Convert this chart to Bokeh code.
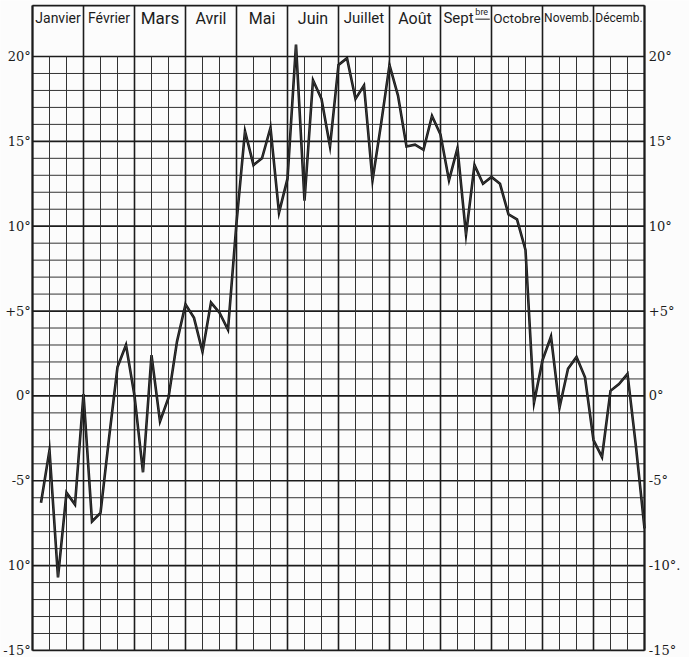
from bokeh.plotting import figure
from bokeh.models import Range1d, ColumnDataSource
from bokeh.core.properties import value
from bokeh.embed import file_html
from bokeh.resources import INLINE

# Month headings (one column of three decades per month)
months = ["Janvier", "Février", "Mars", "Avril", "Mai", "Juin",
          "Juillet", "Août", "Sept", "Octobre", "Novemb.", "Décemb."]

# Mean temperature of each five-day period of the year, six per month (°C)
temperatures = [
    -6.3, -3.2, -10.7, -5.7, -6.4, 0.1,      # Janvier
    -7.4, -6.9, -2.5, 1.7, 3.0, 0.0,         # Février
    -4.5, 2.4, -1.5, -0.1, 3.2, 5.4,         # Mars
    4.6, 2.6, 5.5, 4.9, 3.9, 10.2,           # Avril
    15.6, 13.6, 14.0, 15.8, 10.8, 12.8,      # Mai
    20.7, 11.5, 18.6, 17.5, 14.7, 19.5,      # Juin
    19.9, 17.5, 18.3, 12.7, 16.0, 19.5,      # Juillet
    17.7, 14.7, 14.8, 14.5, 16.5, 15.4,      # Août
    12.7, 14.6, 9.5, 13.6, 12.5, 12.9,       # Septembre
    12.5, 10.7, 10.4, 8.6, -0.4, 2.1,        # Octobre
    3.5, -0.7, 1.6, 2.3, 1.1, -2.6,          # Novembre
    -3.6, 0.3, 0.7, 1.3, -3.0, -7.8,         # Décembre
]

# Temperature scale
scale_ticks = [20, 15, 10, 5, 0, -5, -10, -15]
left_labels = ["20°", "15°", "10°", "+5°", "0°", "-5°", "10°", "-15°"]
right_labels = ["20°", "15°", "10°", "+5°", "0°", "-5°", "-10°.", "-15°"]

T_MIN, T_MAX = -15, 20
N_DEC = 3 * len(months)          # decades across the year
HEADER_TOP = 23.0                # top edge of the month header band

# x is measured in decades (0..36), y in degrees
x_vals = [(i + 1) / 2 for i in range(len(temperatures))]

p = figure(width=689, height=657, output_backend="svg", toolbar_location=None,
           x_axis_type=None, y_axis_type=None, min_border=0,
           x_range=Range1d(-32 / 17, 657 / 17), y_range=Range1d(-15.415, 23.30))
p.outline_line_color = None
p.background_fill_color = "#fcfcfc"
p.border_fill_color = "#fcfcfc"
p.xgrid.visible = False
p.ygrid.visible = False

INK = "#1c1c1c"

# horizontal rules: every degree, heavier every five degrees
minor_h = [t for t in range(T_MIN, T_MAX + 1) if t % 5 != 0]
major_h = [t for t in range(T_MIN, T_MAX + 1) if t % 5 == 0]
p.segment(x0=[0] * len(minor_h), x1=[N_DEC] * len(minor_h), y0=minor_h, y1=minor_h,
          line_color="#333333", line_width=1.0)
p.segment(x0=[0] * len(major_h), x1=[N_DEC] * len(major_h), y0=major_h, y1=major_h,
          line_color=INK, line_width=1.7)

# vertical rules: every decade, months heavier and carried up through the header
minor_v = [d for d in range(N_DEC + 1) if d % 3 != 0]
month_v = [d for d in range(N_DEC + 1) if d % 3 == 0]
p.segment(x0=minor_v, x1=minor_v, y0=[T_MIN] * len(minor_v), y1=[T_MAX] * len(minor_v),
          line_color="#333333", line_width=1.0)
p.segment(x0=month_v, x1=month_v, y0=[T_MIN] * len(month_v), y1=[HEADER_TOP] * len(month_v),
          line_color=INK, line_width=1.6)
p.segment(x0=[0], x1=[N_DEC], y0=[HEADER_TOP], y1=[HEADER_TOP], line_color=INK, line_width=1.6)
p.segment(x0=[0, N_DEC], x1=[0, N_DEC], y0=[T_MIN, T_MIN], y1=[HEADER_TOP, HEADER_TOP],
          line_color=INK, line_width=2.0)

# month names in the header cells
head_font = value("Roboto")
head_sizes = ["14px", "14px", "17px", "16px", "16px", "16px",
              "15px", "16px", "15px", "13.5px", "12px", "12px"]
centers = [3 * i + 1.5 for i in range(len(months))]
sept = months.index("Sept")
for i, name in enumerate(months):
    if i == sept:
        continue
    p.text(x=[centers[i]], y=[22.25], text=[name], text_font=head_font,
           text_font_size=head_sizes[i], text_align="center", text_baseline="middle",
           text_color=INK)
# "Sept" with its raised, underlined "bre"
p.text(x=[centers[sept] + 0.45], y=[22.25], text=[months[sept]], text_font=head_font,
       text_font_size=head_sizes[sept], text_align="right", text_baseline="middle",
       text_color=INK)
p.text(x=[centers[sept] + 0.55], y=[22.6], text=["bre"], text_font=head_font,
       text_font_size="9px", text_align="left", text_baseline="middle", text_color=INK)
p.segment(x0=[centers[sept] + 0.55], x1=[centers[sept] + 1.4], y0=[22.2], y1=[22.2],
          line_color=INK, line_width=1.0)

# degree labels on both sides
scale_font = value("DejaVu Serif")
p.text(x=[-0.1] * len(scale_ticks), y=scale_ticks, text=left_labels, text_font=scale_font,
       text_font_size="13px", text_align="right", text_baseline="middle", text_color=INK)
p.text(x=[N_DEC + 0.25] * len(scale_ticks), y=scale_ticks, text=right_labels,
       text_font=scale_font, text_font_size="13px", text_align="left",
       text_baseline="middle", text_color=INK)

# the temperature curve
src = ColumnDataSource(dict(x=x_vals, t=temperatures))
p.line("x", "t", source=src, line_color="#161616", line_width=2.6, line_join="miter")
p.line("x", "t", source=src, line_color="#8a8a8a", line_width=0.5, line_alpha=0.6)

open("out.html", "w").write(file_html(p, INLINE))
